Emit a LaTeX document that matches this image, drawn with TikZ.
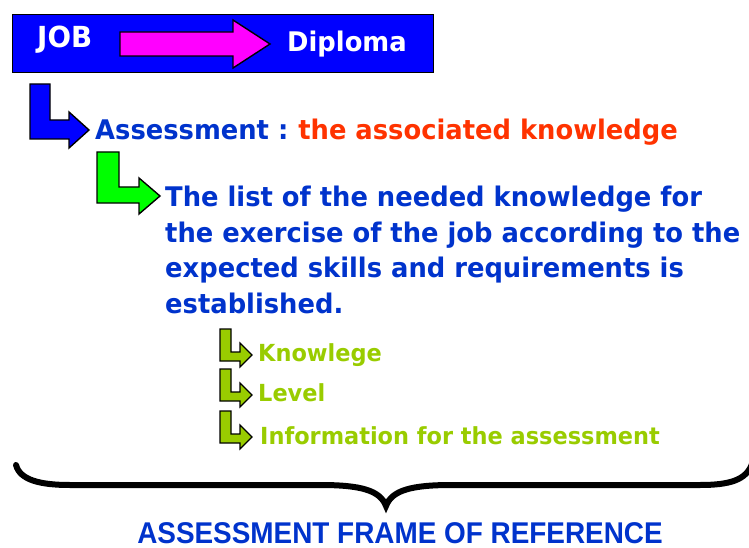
\documentclass[tikz,border=0pt]{standalone}
\usepackage{fontspec}
\newfontfamily\headfont[FakeStretch=0.955]{DejaVu Sans}
\newfontfamily\capfont[FakeStretch=0.93]{Liberation Sans}
\definecolor{boxblue}{RGB}{0,0,255}
\definecolor{textblue}{RGB}{0,51,204}
\definecolor{keyred}{RGB}{255,51,0}
\definecolor{brightgreen}{RGB}{0,255,0}
\definecolor{olive}{RGB}{153,204,0}
\definecolor{pinkarrow}{RGB}{255,0,255}
\tikzset{
  shapeline/.style={draw=black, line width=1.4pt, line join=miter},
  bigtext/.style={font=\headfont\bfseries\fontsize{27}{35}\selectfont, inner sep=0pt, anchor=base west},
  smalltext/.style={font=\headfont\bfseries\fontsize{23.5}{26}\selectfont, inner sep=0pt, anchor=base west, text=olive},
}
\begin{document}
\begin{tikzpicture}[x=1pt,y=-1pt]
\useasboundingbox (0,0) rectangle (749,548);

% title bar
\node[draw=black, line width=1.2pt, fill=boxblue, minimum width=421pt, minimum height=58pt, inner sep=0pt, anchor=north west] (bar) at (12,14) {};
\node[bigtext, text=white, font=\headfont\bfseries\fontsize{29}{35}\selectfont] (job) at (37,48) {JOB};
\node[bigtext, text=white] (diploma) at (287,52) {Diploma};
\filldraw[shapeline, fill=pinkarrow] (120,32) -- (233,32) -- (233,20) -- (270,44) -- (233,68) -- (233,56) -- (120,56) -- cycle;

% first level
\filldraw[shapeline, fill=boxblue] (30,84) -- (50,84) -- (50,120) -- (69,120) -- (69,112) -- (89,130) -- (69,148) -- (69,139) -- (30,139) -- cycle;
\node[bigtext, text=textblue] (assess) at (95,140) {Assessment :\hspace{-2pt} \textcolor{keyred}{the associated knowledge}};

% second level
\filldraw[shapeline, fill=brightgreen] (97,152) -- (119,152) -- (119,187) -- (139,187) -- (139,178) -- (160,196) -- (139,214) -- (139,203) -- (97,203) -- cycle;
\node[bigtext, text=textblue, align=left, font=\headfont\bfseries\fontsize{27}{35.5}\selectfont] (list) at (165,313)
  {The list of the needed knowledge for\\the exercise of the job according to the\\expected skills and requirements is\\established.};

% third level
\foreach \dy/\name in {0/a,40/b,82/c}{
  \filldraw[shapeline, fill=olive, line width=1.2pt, shift={(0,\dy)}] (220,329) -- (231,329) -- (231,352) -- (240,352) -- (240,343) -- (252,355) -- (240,367) -- (240,361) -- (220,361) -- cycle;
}
\node[smalltext] (know) at (258,361) {Knowlege};
\node[smalltext] (level) at (258,401) {Level};
\node[smalltext] (info) at (260,444) {Information for the assessment};

% brace and caption
\draw[line width=6pt, line cap=round] (16,465) .. controls (20,480) and (40,485) .. (70,485) -- (320,485) .. controls (360,485) and (380,490) .. (386,506) .. controls (392,490) and (412,485) .. (452,485) -- (700,485) .. controls (730,485) and (746,480) .. (752,464);
\node[font=\capfont\bfseries\fontsize{30}{31}\selectfont, text=textblue, inner sep=0pt, anchor=base] (frame) at (400,543) {ASSESSMENT FRAME OF REFERENCE};
\end{tikzpicture}
\end{document}
